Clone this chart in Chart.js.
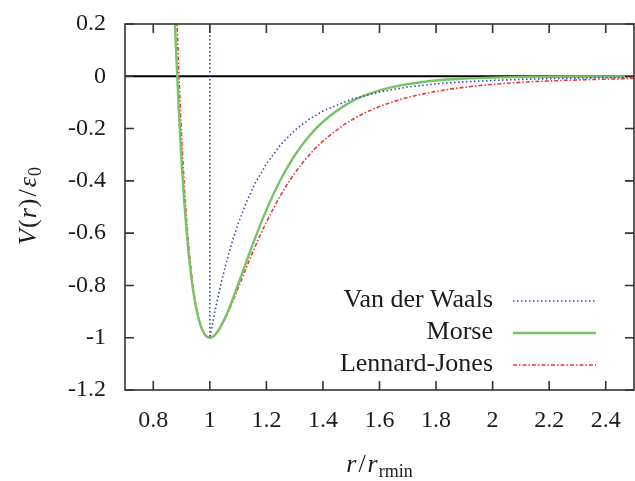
<!DOCTYPE html>
<html>
<head>
<meta charset="utf-8">
<title>Interatomic potentials</title>
<script src="https://cdn.jsdelivr.net/npm/chart.js@4.4.0/dist/chart.umd.min.js"></script>
<style>
  html, body { margin: 0; padding: 0; background: #fff; }
  #wrap { width: 635px; height: 481px; position: relative; }
</style>
</head>
<body>
<div id="wrap"><canvas id="potentialChart"></canvas></div>
<script>
// r / rmin sample positions for the Morse and Lennard-Jones curves
const rValues = [0.86, 0.87, 0.88, 0.89, 0.90, 0.91, 0.92, 0.93, 0.94, 0.95, 0.96, 0.97, 0.98, 0.99, 1.00,
  1.02, 1.04, 1.06, 1.08, 1.10, 1.13, 1.16, 1.20, 1.25, 1.30, 1.35, 1.40, 1.50, 1.60, 1.70, 1.80,
  1.90, 2.00, 2.10, 2.20, 2.30, 2.40, 2.50];

const morseValues = [0.733, 0.396, 0.112, -0.126, -0.324, -0.487, -0.620, -0.728, -0.812, -0.878, -0.926, -0.961, -0.984, -0.996, -1.0,
  -0.987, -0.954, -0.909, -0.855, -0.796, -0.707, -0.619, -0.512, -0.396, -0.303, -0.230, -0.174, -0.097, -0.054, -0.030, -0.016,
  -0.009, -0.005, -0.003, -0.0015, -0.0008, -0.0004, -0.0002];

const ljValues = [1.166, 0.706, 0.330, 0.024, -0.223, -0.421, -0.579, -0.702, -0.798, -0.870, -0.923, -0.960, -0.983, -0.996, -1.0,
  -0.987, -0.956, -0.913, -0.863, -0.810, -0.730, -0.652, -0.558, -0.456, -0.371, -0.303, -0.248, -0.168, -0.116, -0.081, -0.058,
  -0.042, -0.031, -0.023, -0.018, -0.014, -0.011, -0.008];

// Van der Waals: hard wall at r = rmin, then the attractive tail
const vdwR = [1.00, 1.00, 1.02, 1.04, 1.06, 1.08, 1.10, 1.13, 1.16, 1.20, 1.25, 1.30, 1.35, 1.40, 1.50, 1.60,
  1.70, 1.80, 1.90, 2.00, 2.10, 2.20, 2.30, 2.40, 2.50];
const vdwValues = [0.25, -1.0, -0.888, -0.790, -0.705, -0.630, -0.564, -0.480, -0.410, -0.335, -0.262, -0.207, -0.165, -0.133, -0.088, -0.060,
  -0.041, -0.029, -0.021, -0.016, -0.012, -0.009, -0.007, -0.005, -0.004];

const xTicks = [0.8, 1.0, 1.2, 1.4, 1.6, 1.8, 2.0, 2.2, 2.4];
const xTickLabels = ["0.8", "1", "1.2", "1.4", "1.6", "1.8", "2", "2.2", "2.4"];
const yTicks = [0.2, 0, -0.2, -0.4, -0.6, -0.8, -1.0, -1.2];
const yTickLabels = ["0.2", "0", "-0.2", "-0.4", "-0.6", "-0.8", "-1", "-1.2"];

const legendLabels = ["Van der Waals", "Morse", "Lennard-Jones"];

const SERIF = '"Liberation Serif", "Times New Roman", serif';
const TEXT_COLOR = "#1c1c1c";

function toPoints(xs, ys) {
  return xs.map((x, i) => ({ x: x, y: ys[i] }));
}

// draw a row of text pieces (italic / roman / subscript) starting at x
function drawRuns(ctx, runs, x, y) {
  let cx = x;
  runs.forEach(run => {
    ctx.font = run.font;
    ctx.fillText(run.text, cx, y + (run.dy || 0));
    cx += ctx.measureText(run.text).width + (run.gap || 0);
  });
}

function runsWidth(ctx, runs) {
  let w = 0;
  runs.forEach(run => {
    ctx.font = run.font;
    w += ctx.measureText(run.text).width + (run.gap || 0);
  });
  return w;
}

const framePlugin = {
  id: "gnuplotFrame",
  beforeDatasetsDraw(chart) {
    const { ctx, chartArea, scales } = chart;
    const y0 = scales.y.getPixelForValue(0);
    ctx.save();
    ctx.strokeStyle = "#000";
    ctx.lineWidth = 2;
    ctx.beginPath();
    ctx.moveTo(chartArea.left, y0);
    ctx.lineTo(chartArea.right, y0);
    ctx.stroke();
    ctx.restore();
  },
  afterDatasetsDraw(chart) {
    const { ctx, chartArea, scales } = chart;
    const tickLen = 9;
    ctx.save();
    ctx.strokeStyle = "#333";
    ctx.lineWidth = 1.6;
    ctx.strokeRect(chartArea.left, chartArea.top, chartArea.right - chartArea.left, chartArea.bottom - chartArea.top);

    ctx.beginPath();
    xTicks.forEach(v => {
      const px = scales.x.getPixelForValue(v);
      ctx.moveTo(px, chartArea.bottom);
      ctx.lineTo(px, chartArea.bottom - tickLen);
      ctx.moveTo(px, chartArea.top);
      ctx.lineTo(px, chartArea.top + tickLen);
    });
    yTicks.forEach(v => {
      const py = scales.y.getPixelForValue(v);
      ctx.moveTo(chartArea.left, py);
      ctx.lineTo(chartArea.left + tickLen, py);
      ctx.moveTo(chartArea.right, py);
      ctx.lineTo(chartArea.right - tickLen, py);
    });
    ctx.stroke();
    ctx.restore();
  },
  afterDraw(chart) {
    const { ctx, chartArea } = chart;
    ctx.save();
    ctx.fillStyle = TEXT_COLOR;

    // Legend: text right aligned, sample line to the right
    const legendTextRight = 493;
    const legendTop = 301;
    const legendStep = 32;
    chart.data.datasets.forEach((ds, i) => {
      const y = legendTop + i * legendStep;
      ctx.font = "26px " + SERIF;
      ctx.textAlign = "right";
      ctx.textBaseline = "middle";
      ctx.fillStyle = TEXT_COLOR;
      ctx.fillText(legendLabels[i], legendTextRight, y - 1);

      ctx.beginPath();
      ctx.strokeStyle = ds.borderColor;
      ctx.lineWidth = ds.borderWidth;
      ctx.setLineDash(ds.borderDash || []);
      ctx.moveTo(513, y);
      ctx.lineTo(596, y);
      ctx.stroke();
      ctx.setLineDash([]);
    });

    // x axis title: r / r_rmin
    ctx.textAlign = "left";
    ctx.textBaseline = "alphabetic";
    const xRuns = [
      { text: "r", font: "italic 26px " + SERIF, gap: 2 },
      { text: "/", font: "26px " + SERIF, gap: 2 },
      { text: "r", font: "italic 26px " + SERIF, gap: 1 },
      { text: "rmin", font: "18px " + SERIF, dy: 5 }
    ];
    const xw = runsWidth(ctx, xRuns);
    const xCenter = (chartArea.left + chartArea.right) / 2;
    drawRuns(ctx, xRuns, xCenter - xw / 2, 472);

    // y axis title: V(r) / eps0, rotated
    const yRuns = [
      { text: "V", font: "italic 26px " + SERIF, gap: 1 },
      { text: "(", font: "26px " + SERIF, gap: 1 },
      { text: "r", font: "italic 26px " + SERIF, gap: 1 },
      { text: ")", font: "26px " + SERIF, gap: 2 },
      { text: "/", font: "26px " + SERIF, gap: 2 },
      { text: "\u03b5", font: "italic 26px " + SERIF, gap: 1 },
      { text: "0", font: "18px " + SERIF, dy: 5 }
    ];
    const yw = runsWidth(ctx, yRuns);
    ctx.translate(36, 206);
    ctx.rotate(-Math.PI / 2);
    drawRuns(ctx, yRuns, -yw / 2, 0);
    ctx.restore();
  }
};

const tickFont = { family: SERIF, size: 24 };

new Chart(document.getElementById("potentialChart"), {
  type: "line",
  data: {
    datasets: [
      {
        label: legendLabels[0],
        data: toPoints(vdwR, vdwValues),
        borderColor: "rgb(55, 75, 170)",
        borderWidth: 1.6,
        borderDash: [1.5, 2.5],
        pointRadius: 0,
        tension: 0,
        fill: false
      },
      {
        label: legendLabels[1],
        data: toPoints(rValues, morseValues),
        borderColor: "rgb(120, 195, 100)",
        borderWidth: 2.4,
        pointRadius: 0,
        cubicInterpolationMode: "monotone",
        fill: false
      },
      {
        label: legendLabels[2],
        data: toPoints(rValues, ljValues),
        borderColor: "rgb(235, 55, 55)",
        borderWidth: 1.6,
        borderDash: [4, 2, 1.5, 2],
        pointRadius: 0,
        cubicInterpolationMode: "monotone",
        fill: false
      }
    ]
  },
  options: {
    responsive: true,
    maintainAspectRatio: false,
    animation: false,
    layout: { padding: { top: 24, right: 1, left: 0, bottom: 0 } },
    plugins: {
      legend: { display: false },
      tooltip: { enabled: false }
    },
    scales: {
      x: {
        type: "linear",
        min: 0.7,
        max: 2.5,
        grid: { display: false, drawTicks: false },
        border: { display: false },
        afterBuildTicks: scale => { scale.ticks = xTicks.map(v => ({ value: v })); },
        afterFit: scale => {
          scale.height = 91;
          scale.paddingLeft = 0;
          scale.paddingRight = 0;
        },
        ticks: {
          font: tickFont,
          color: TEXT_COLOR,
          padding: 16,
          maxRotation: 0,
          autoSkip: false,
          callback: (value, index) => xTickLabels[index]
        }
      },
      y: {
        type: "linear",
        min: -1.2,
        max: 0.2,
        grid: { display: false, drawTicks: false },
        border: { display: false },
        afterBuildTicks: scale => { scale.ticks = yTicks.map(v => ({ value: v })); },
        afterFit: scale => {
          scale.width = 125;
          scale.paddingTop = 0;
          scale.paddingBottom = 0;
        },
        ticks: {
          font: tickFont,
          color: TEXT_COLOR,
          padding: 19,
          autoSkip: false,
          callback: (value, index) => yTickLabels[index]
        }
      }
    }
  },
  plugins: [framePlugin]
});
</script>
</body>
</html>
